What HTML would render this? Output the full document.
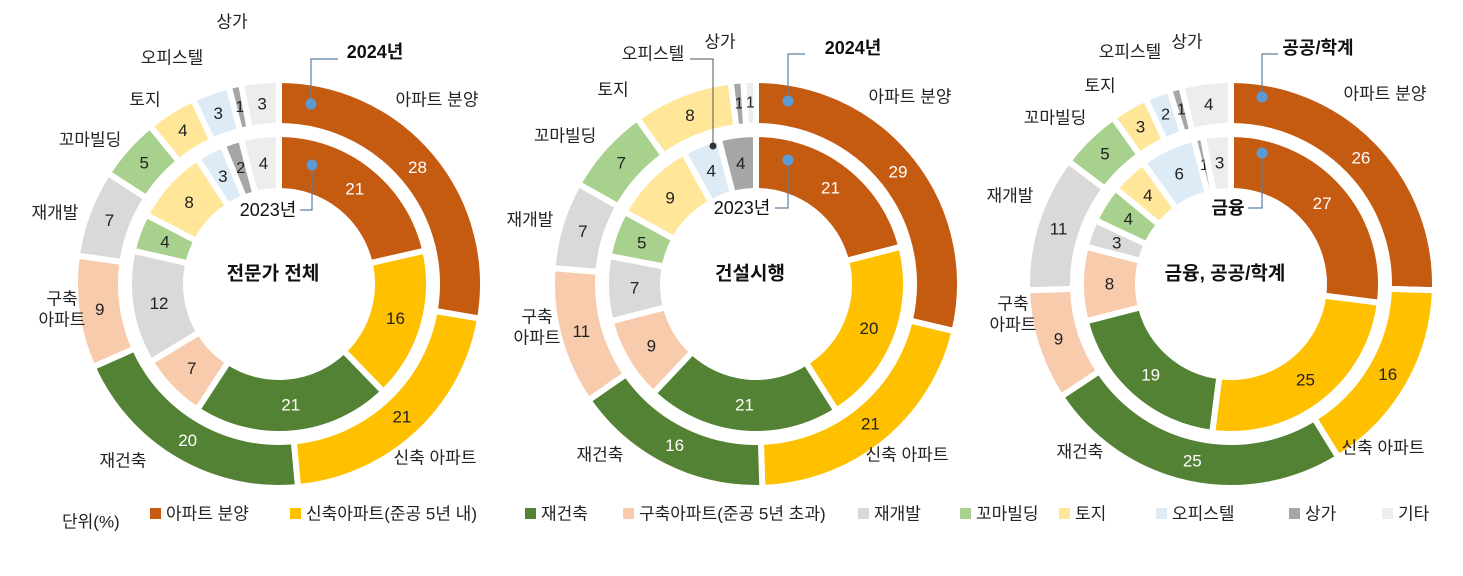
<!DOCTYPE html>
<html><head><meta charset="utf-8"><style>
body{margin:0;background:#fff}
svg text{font-family:"Liberation Sans","Noto Sans CJK KR",sans-serif}
</style></head><body>
<svg id="c" width="1463" height="571" viewBox="0 0 1463 571"></svg>
<script>
const categories=["아파트 분양","신축아파트(준공 5년 내)","재건축","구축아파트(준공 5년 초과)","재개발","꼬마빌딩","토지","오피스텔","상가","기타"];
const colors=["#C55A11","#FFC000","#548235","#F8CBAD","#D9D9D9","#A9D18E","#FFE699","#DDEBF7","#A6A6A6","#EDEDED"];
const outer1=[28,21,20,9,7,5,4,3,1,3];
const inner1=[21,16,21,7,12,4,8,3,2,4];
const outer2=[29,21,16,11,7,7,8,0,1,1];
const inner2=[21,20,21,9,7,5,9,4,4,0];
const outer3=[26,16,25,9,11,5,3,2,1,4];
const inner3=[27,25,19,8,3,4,4,6,1,3];
const titles=["전문가 전체","건설시행","금융, 공공/학계"];
const NS="http://www.w3.org/2000/svg";
const svg=document.getElementById('c');
function mk(t,a,p){const e=document.createElementNS(NS,t);for(const k in a)e.setAttribute(k,a[k]);(p||svg).appendChild(e);return e;}
function txt(x,y,s,o){o=o||{};const t=mk('text',{x:x,y:y,'font-size':o.size||17,'text-anchor':o.anchor||'middle','dominant-baseline':'central',fill:o.fill||'#222','font-weight':o.bold?'bold':'normal'});t.textContent=s;return t;}
function pt(cx,cy,r,a){return [cx+r*Math.sin(a),cy-r*Math.cos(a)];}
function ring(cx,cy,r0,r1,vals,name){
  const tot=vals.reduce((a,b)=>a+b,0);let acc=0;
  vals.forEach((v,i)=>{
    if(v<=0){return;}
    const a0=acc/tot*2*Math.PI,a1=(acc+v)/tot*2*Math.PI;acc+=v;
    const lg=(a1-a0)>Math.PI?1:0;
    const p1=pt(cx,cy,r1,a0),p2=pt(cx,cy,r1,a1),p3=pt(cx,cy,r0,a1),p4=pt(cx,cy,r0,a0);
    const d=`M${p1}A${r1},${r1} 0 ${lg} 1 ${p2}L${p3}A${r0},${r0} 0 ${lg} 0 ${p4}Z`;
    const p=mk('path',{d:d,fill:colors[i],stroke:'#fff','stroke-width':6});
    
    
    const m=(a0+a1)/2,lp=pt(cx,cy,(r0+r1)/2,m);
    txt(lp[0],lp[1],String(v),{size:v<=2?16:17,fill:(i==0||i==2)?'#fff':'#222',name:name+'-value-'+i});
  });
}
const centers=[[279,284],[756,284],[1231,284]];
const data=[[outer1,inner1],[outer2,inner2],[outer3,inner3]];
centers.forEach((c,k)=>{
  ring(c[0],c[1],158,204,data[k][0],'outer'+(k+1));
  ring(c[0],c[1],93,150,data[k][1],'inner'+(k+1));
  txt(c[0]-6,c[1]-10,titles[k],{bold:true,size:19,fill:'#111',name:'chart-title-'+(k+1)});
});
// category labels
const catPos=[
 [[437,100,"아파트 분양"],[435,458,"신축 아파트"],[123,461,"재건축"],[62,299,"구축"],[62,320,"아파트"],[55,213,"재개발"],[90,140,"꼬마빌딩"],[145,100,"토지"],[172,58,"오피스텔"],[232,22,"상가"]],
 [[910,97,"아파트 분양"],[907,455,"신축 아파트"],[600,455,"재건축"],[537,317,"구축"],[537,338,"아파트"],[530,220,"재개발"],[565,136,"꼬마빌딩"],[613,90,"토지"],[653,54,"오피스텔"],[720,42,"상가"]],
 [[1385,94,"아파트 분양"],[1383,448,"신축 아파트"],[1080,452,"재건축"],[1013,304,"구축"],[1013,325,"아파트"],[1010,196,"재개발"],[1055,118,"꼬마빌딩"],[1100,86,"토지"],[1130,52,"오피스텔"],[1187,42,"상가"]]];
catPos.forEach((arr,k)=>arr.forEach(a=>txt(a[0],a[1],a[2],{name:'category-label'})));
// year callouts
const calls=[[311,104,59,338,375,52,"2024년",true],[312,165,210,300,268,210,"2023년",false],
 [788,101,54,805,853,48,"2024년",true],[788,160,208,775,742,208,"2023년",false],
 [1262,97,54,1278,1318,48,"공공/학계",true],[1262,153,208,1248,1228,208,"금융",true]];
calls.forEach(c=>{
  const l=mk('polyline',{points:`${c[0]},${c[1]} ${c[0]},${c[2]} ${c[3]},${c[2]}`,fill:'none',stroke:'#5b7fa6','stroke-width':1.2});
  
  const d=mk('circle',{cx:c[0],cy:c[1],r:5.5,fill:'#5B9BD5'});
  
  txt(c[4],c[5],c[6],{bold:c[7],size:18,fill:'#111',name:'year-label'});
});
// chart2 officetel pointer
const ol=mk('polyline',{points:"690,59 713,59 713,146",fill:'none',stroke:'#555','stroke-width':1});

const od=mk('circle',{cx:713,cy:146,r:3.5,fill:'#333'});

// legend
txt(62,522,"단위(%)",{anchor:'start',name:'unit-label'});
const legX=[150,290,525,623,858,960,1059,1156,1289,1382];
const legNames=["아파트 분양","신축아파트(준공 5년 내)","재건축","구축아파트(준공 5년 초과)","재개발","꼬마빌딩","토지","오피스텔","상가","기타"];
legNames.forEach((n,i)=>{
  const r=mk('rect',{x:legX[i],y:508,width:11,height:11,fill:colors[i]});
  
  txt(legX[i]+16,514,n,{anchor:'start',name:'legend-entry'});
});
</script>
</body></html>
